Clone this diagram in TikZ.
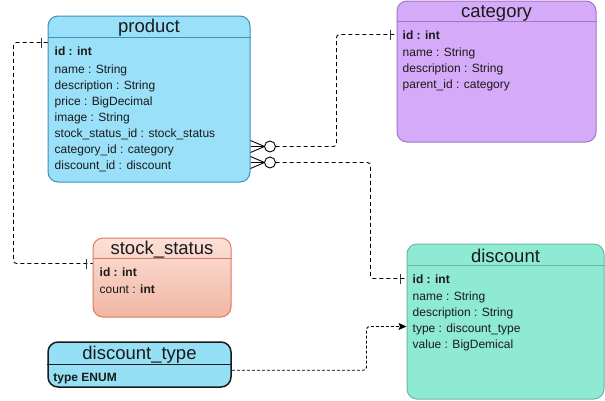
\documentclass[tikz,border=0pt]{standalone}
\usepackage{fontspec}
\setmainfont{Liberation Sans}
\usepackage{xcolor}
\usetikzlibrary{positioning,calc,arrows.meta}
\definecolor{prodfill}{HTML}{99E0F8}
\definecolor{prodedge}{HTML}{3D8FBD}
\definecolor{catfill}{HTML}{D5AAF8}
\definecolor{catedge}{HTML}{A078C8}
\definecolor{stocktop}{HTML}{FCE0D7}
\definecolor{stockbot}{HTML}{F0B6A3}
\definecolor{stockedge}{HTML}{DE7A5E}
\definecolor{dtfill}{HTML}{95E0F5}
\definecolor{discfill}{HTML}{8FEAD3}
\definecolor{discedge}{HTML}{6CB8A2}
\definecolor{ink}{HTML}{1A1A1A}
\definecolor{markink}{HTML}{333333}
\tikzset{
  erbox/.style={rectangle, rounded corners=10pt, line width=1pt, inner sep=0pt},
  ertitle/.style={font=\fontsize{18.5}{22}\selectfont, text=ink, inner sep=0pt},
  errows/.style={font=\fontsize{12}{16}\selectfont, text=ink, align=left, inner sep=0pt, anchor=north west},
  erline/.style={line width=1pt},
  relline/.style={line width=0.9pt, dash pattern=on 4pt off 3pt, rounded corners=3pt},
  refline/.style={line width=0.9pt, dash pattern=on 3pt off 2pt, rounded corners=3pt},
  onebar/.style={line width=1.7pt, draw=markink},
  crowfoot/.style={line width=0.9pt},
}
\begin{document}
\begin{tikzpicture}[x=1pt,y=-1pt]
  \useasboundingbox (0,0) rectangle (605,400);

  % product
  \node[erbox, draw=prodedge, fill=prodfill, minimum width=202pt, minimum height=166pt] (product) at (149,99) {};
  \node[ertitle] (product-title) at ($(product.north)+(0,12.5)$) {product};
  \draw[erline, prodedge] ($(product.north west)+(0,22)$) -- ($(product.north east)+(0,22)$);
  \node[errows] (product-rows) at ($(product.north west)+(7,31.5)$)
  {\textbf{id : int}\\[2pt] name : String\\ description : String\\ price : BigDecimal\\ image : String\\
   stock\_status\_id : stock\_status\\ category\_id : category\\ discount\_id : discount};

  % category
  \node[erbox, draw=catedge, fill=catfill, minimum width=199pt, minimum height=141pt] (category) at (496.5,71.5) {};
  \node[ertitle] (category-title) at ($(category.north)+(0,12.5)$) {category};
  \draw[erline, catedge] ($(category.north west)+(0,21)$) -- ($(category.north east)+(0,21)$);
  \node[errows] (category-rows) at ($(category.north west)+(6,30.5)$)
  {\textbf{id : int}\\[1pt] name : String\\ description : String\\ parent\_id : category};

  % stock_status
  \node[erbox, draw=stockedge, top color=stocktop, bottom color=stockbot, minimum width=138pt, minimum height=79pt] (stock) at (162,277.5) {};
  \node[ertitle] (stock-title) at ($(stock.north)+(0,12)$) {stock\_status};
  \draw[erline, stockedge] ($(stock.north west)+(0,21)$) -- ($(stock.north east)+(0,21)$);
  \node[errows] (stock-rows) at ($(stock.north west)+(7,30.5)$)
  {\textbf{id : int}\\[1pt] count : \textbf{int}};

  % discount_type
  \node[erbox, draw=ink, fill=dtfill, line width=1.5pt, minimum width=183pt, minimum height=45pt] (dtype) at (139.5,364.5) {};
  \node[ertitle] (dtype-title) at ($(dtype.north)+(0,13)$) {discount\_type};
  \draw[erline, ink, line width=1.2pt] ($(dtype.north west)+(0,23)$) -- ($(dtype.north east)+(0,23)$);
  \node[errows] (dtype-rows) at ($(dtype.north west)+(6,32)$) {\textbf{type ENUM}};

  % discount
  \node[erbox, draw=discedge, fill=discfill, minimum width=197pt, minimum height=155pt] (discount) at (505.5,321.5) {};
  \node[ertitle] (discount-title) at ($(discount.north)+(0,12.5)$) {discount};
  \draw[erline, discedge] ($(discount.north west)+(0,22)$) -- ($(discount.north east)+(0,22)$);
  \node[errows] (discount-rows) at ($(discount.north west)+(6,31.5)$)
  {\textbf{id : int}\\[1pt] name : String\\ description : String\\ type : discount\_type\\ value : BigDemical};

  % attachment points on the box edges
  \coordinate (p-stock) at ($(product.north west)+(0,27)$);
  \coordinate (s-prod) at ($(stock.north west)+(0,26)$);
  \coordinate (p-cat) at ($(product.north east)+(0,131)$);
  \coordinate (c-prod) at ($(category.north west)+(0,34)$);
  \coordinate (p-disc) at ($(product.north east)+(0,147)$);
  \coordinate (d-prod) at ($(discount.north west)+(0,35)$);
  \coordinate (t-disc) at ($(dtype.north east)+(0,29)$);
  \coordinate (d-type) at ($(discount.north west)+(0,83)$);

  % product -- stock_status (one to one)
  \draw[relline] (p-stock) -- ++(-34,0) |- (s-prod);
  \draw[onebar] ($(p-stock)+(-6,-5)$) -- ++(0,10);
  \draw[onebar] ($(s-prod)+(-6,-5)$) -- ++(0,10);

  % product -- category (zero or many to one)
  \draw[relline] ($(p-cat)+(25,0)$) -| ($(c-prod)+(-60,0)$) -- (c-prod);
  \draw[crowfoot] ($(p-cat)+(0,-6)$) -- ($(p-cat)+(14,0)$) -- ($(p-cat)+(0,6)$);
  \draw[crowfoot] (p-cat) -- ++(14,0);
  \draw[crowfoot, fill=white] ($(p-cat)+(19.5,0)$) circle[radius=5.5pt];
  \draw[onebar] ($(c-prod)+(-6,-5)$) -- ++(0,10);

  % product -- discount (zero or many to one)
  \draw[relline] ($(p-disc)+(25,0)$) -| ($(d-prod)+(-36,0)$) -- (d-prod);
  \draw[crowfoot] ($(p-disc)+(0,-6)$) -- ($(p-disc)+(14,0)$) -- ($(p-disc)+(0,6)$);
  \draw[crowfoot] (p-disc) -- ++(14,0);
  \draw[crowfoot, fill=white] ($(p-disc)+(19.5,0)$) circle[radius=5.5pt];
  \draw[onebar] ($(d-prod)+(-6,-5)$) -- ++(0,10);

  % discount_type -> discount.type
  \draw[refline, -{Stealth[length=8pt, width=7pt, inset=1.5pt]}] (t-disc) -| ($(d-type)+(-40,0)$) -- (d-type);
\end{tikzpicture}
\end{document}
